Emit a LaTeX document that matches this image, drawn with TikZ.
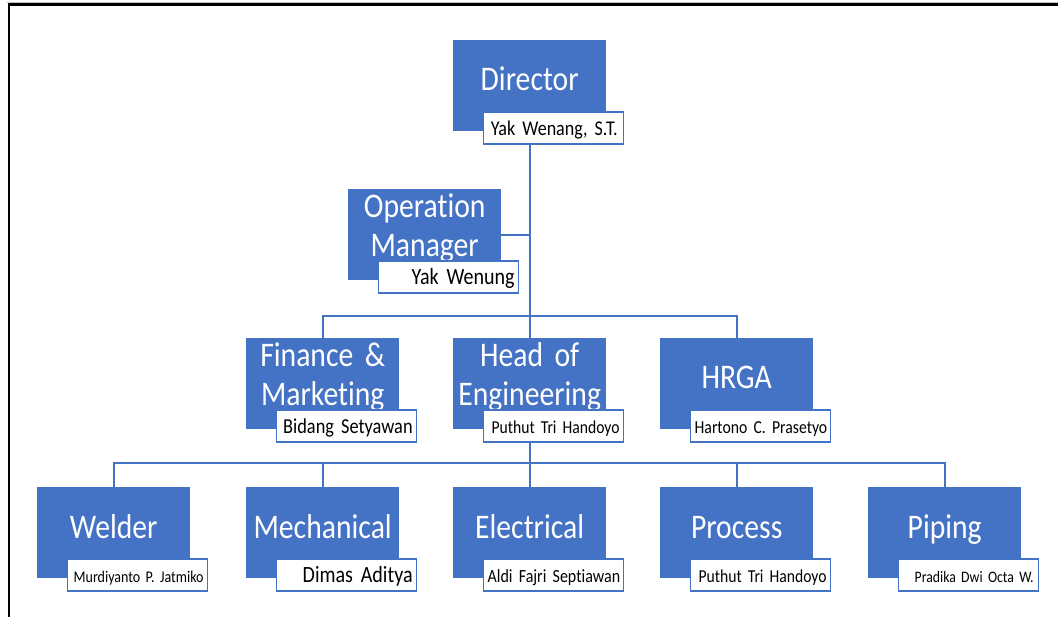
\documentclass[tikz,border=0pt]{standalone}
\usepackage{fontspec}
\setmainfont{Carlito}[FakeStretch=0.86, Ligatures=NoCommon]
\usetikzlibrary{calc,backgrounds}
\definecolor{ofblue}{HTML}{4472C4}
\newcommand\nmfont[1]{\fontsize{#1}{#1}\selectfont\spaceskip=\dimexpr #1pt*18/100\relax\xspaceskip=\spaceskip}
\begin{document}
\begin{tikzpicture}[x=1pt,y=-1pt,
  unit/.style={fill=ofblue, minimum width=153pt, minimum height=91pt, inner sep=0pt, anchor=north west},
  title/.style={text=white, font={\fontsize{34.5}{39}\selectfont\spaceskip=6.5pt\xspaceskip=6.5pt}, anchor=base, align=center, text width=152pt, inner sep=0pt},
  namebox/.style={draw=ofblue, line width=1.3pt, fill=white, text width=132pt, align=right, inner xsep=4pt, inner ysep=0pt, text height=23pt, text depth=9pt, anchor=north west,
    execute at begin node={\leavevmode\hbox\bgroup}, execute at end node={\egroup}},
  conn/.style={draw=ofblue, line width=1.8pt}]
\useasboundingbox (0,0) rectangle (1058,617);
% frame
\draw[gray!50, line width=0.9pt] (7,2.4) -- (1058,2.4);
\draw[black, line width=2.4pt] (8.7,617) -- (8.7,4.6) -- (1058,4.6);

% Director
\node[unit] (dir) at (453,40) {};
\node[title] (dirt) at ($(dir.north)+(0,51)$) {Director};
\node[namebox, font=\nmfont{21}] (dirn) at ($(dir.south west)+(30,-20)$) {Yak Wenang, S.T.\hspace*{2pt}};

% Operation Manager
\node[unit] (om) at (348,189) {};
\node[title] (omt) at ($(om.north)+(0,29)$) {Operation\\Manager};
\node[namebox, font=\nmfont{23.3}] (omn) at ($(om.south west)+(30,-20)$) {Yak Wenung};

% Level 2
\node[unit] (fin) at (246,338) {};
\node[title] (fint) at ($(fin.north)+(0,29)$) {Finance \&\\Marketing};
\node[namebox, font=\nmfont{21.3}] (finn) at ($(fin.south west)+(30,-20)$) {Bidang Setyawan};

\node[unit] (hoe) at (453,338) {};
\node[title] (hoet) at ($(hoe.north)+(0,29)$) {Head of\\Engineering};
\node[namebox, font=\nmfont{18.2}] (hoen) at ($(hoe.south west)+(30,-20)$) {Puthut Tri Handoyo};

\node[unit] (hrga) at (660,338) {};
\node[title] (hrgat) at ($(hrga.north)+(0,51)$) {HRGA};
\node[namebox, font=\nmfont{18.3}] (hrgan) at ($(hrga.south west)+(30,-20)$) {Hartono C. Prasetyo};

% Level 3
\node[unit] (weld) at (37,487) {};
\node[title] (weldt) at ($(weld.north)+(0,51)$) {Welder};
\node[namebox, font=\nmfont{16.3}] (weldn) at ($(weld.south west)+(30,-20)$) {Murdiyanto P. Jatmiko};

\node[unit] (mech) at (246,487) {};
\node[title] (mecht) at ($(mech.north)+(0,51)$) {Mechanical};
\node[namebox, font=\nmfont{23.3}] (mechn) at ($(mech.south west)+(30,-20)$) {Dimas Aditya};

\node[unit] (elec) at (453,487) {};
\node[title] (elect) at ($(elec.north)+(0,51)$) {Electrical};
\node[namebox, font=\nmfont{18.6}] (elecn) at ($(elec.south west)+(30,-20)$) {Aldi Fajri Septiawan\hspace*{1pt}};

\node[unit] (proc) at (660,487) {};
\node[title] (proct) at ($(proc.north)+(0,51)$) {Process};
\node[namebox, font=\nmfont{18.2}] (procn) at ($(proc.south west)+(30,-20)$) {Puthut Tri Handoyo};

\node[unit] (pip) at (868,487) {};
\node[title] (pipt) at ($(pip.north)+(0,51)$) {Piping};
\node[namebox, font=\nmfont{16}] (pipn) at ($(pip.south west)+(30,-20)$) {Pradika Dwi Octa W.\hspace*{1pt}};

% connectors
\coordinate (b2) at (529.5,316);
\coordinate (b3) at (529.5,463);
\begin{scope}[on background layer]
\draw[conn] (dir.south) -- (hoe.north);
\draw[conn] (om.east) -- (om.east -| dir.south);
\draw[conn] (fin.north) |- (b2) -| (hrga.north);
\draw[conn] (hoe.south) -- (elec.north);
\draw[conn] (weld.north) |- (b3) -| (pip.north);
\draw[conn] (mech.north) |- (b3);
\draw[conn] (proc.north) |- (b3);
\end{scope}
\end{tikzpicture}
\end{document}
